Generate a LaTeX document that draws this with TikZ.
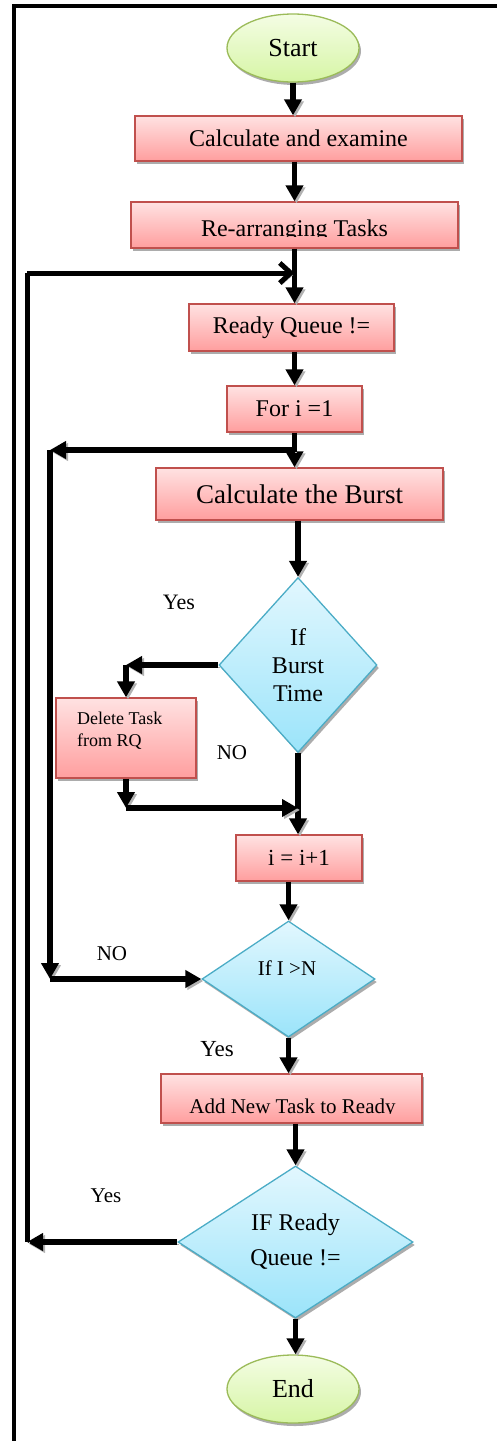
\documentclass[tikz,border=0pt]{standalone}
\usepackage{fontspec}
\setmainfont{Liberation Serif}
\usetikzlibrary{arrows.meta,shapes.geometric,shadows,calc}
\definecolor{boxborder}{RGB}{192,80,77}
\definecolor{boxtop}{RGB}{255,226,226}
\definecolor{boxbot}{RGB}{255,158,158}
\definecolor{ellborder}{RGB}{155,187,89}
\definecolor{elltop}{RGB}{244,253,228}
\definecolor{ellbot}{RGB}{214,245,165}
\definecolor{diaborder}{RGB}{75,172,198}
\definecolor{diatop}{RGB}{226,247,254}
\definecolor{diabot}{RGB}{155,228,250}
\begin{document}
\begin{tikzpicture}[x=1pt,y=-1pt,
  shd/.style={drop shadow={shadow xshift=2pt,shadow yshift=-3pt,fill=gray!65,opacity=1}},
  procbox/.style={rectangle, draw=boxborder, line width=1.3pt, top color=boxtop, bottom color=boxbot, shd, inner sep=0pt},
  term/.style={ellipse, draw=ellborder, line width=1.3pt, top color=elltop, bottom color=ellbot, shd, inner sep=0pt, minimum width=132pt, minimum height=68pt, font=\fontsize{26}{30}\selectfont},
  decide/.style={diamond, draw=diaborder, line width=1.3pt, top color=diatop, bottom color=diabot, shd, inner sep=0pt, align=center},
  lineshd/.style={preaction={draw=gray!60, transform canvas={shift={(2pt,-2pt)}}}},
  conn/.style={line width=5.5pt, -{Triangle[length=16pt,width=17pt]}, lineshd},
  plainln/.style={line width=5pt, lineshd},
  barb/.style={line width=5pt, -{Straight Barb[length=11pt,width=20pt]}, lineshd},
  lbl/.style={inner sep=0pt}
]
\useasboundingbox (0,0) rectangle (497,1441);
% frame
\coordinate (fBL) at (14,1441);
\coordinate (fTL) at (14,6);
\coordinate (fTR) at (497,6);
\draw[line width=4pt] (fBL) -- (fTL) -- (fTR);

% nodes
\node[term] (start) at (293,48) {Start};
\node[procbox, minimum width=327pt, minimum height=45pt, font=\fontsize{24}{28}\selectfont] (calc) at (298.5,138.5) {Calculate and examine};
\node[procbox, minimum width=327pt, minimum height=46pt] (rearr) at (294.5,225) {};
\begin{scope}
\clip (131,202) rectangle (458,236);
\node[lbl, anchor=base, font=\fontsize{24}{28}\selectfont] (trearr) at (294.5,236) {Re-arranging Tasks};
\end{scope}
\node[procbox, minimum width=205pt, minimum height=47pt, font=\fontsize{24}{28}\selectfont] (ready) at (291.5,327.5) {Ready Queue !=};
\node[procbox, minimum width=135pt, minimum height=46pt, font=\fontsize{24}{28}\selectfont] (fori) at (294.5,409) {For i =1};
\node[procbox, minimum width=287pt, minimum height=52pt, font=\fontsize{27}{31}\selectfont] (burstbox) at (299.5,494) {Calculate the Burst};
\node[decide, minimum width=158pt, minimum height=175pt, font=\fontsize{24}{28}\selectfont] (burst) at (298,665) {If\\Burst\\Time};
\node[procbox, minimum width=140pt, minimum height=80pt] (delete) at (126,738) {};
\node[lbl, anchor=west, align=left, font=\fontsize{18}{22}\selectfont] (tdelete) at (77,731) {Delete Task\\from RQ};
\node[procbox, minimum width=126pt, minimum height=46pt, font=\fontsize{23}{27}\selectfont] (inc) at (299,858) {i = i+1};
\node[decide, minimum width=173pt, minimum height=116pt] (ifn) at (288.5,979) {};
\node[lbl, font=\fontsize{21}{25}\selectfont] (tifn) at (287,968) {If I >N};
\node[procbox, minimum width=261pt, minimum height=49pt] (add) at (291.5,1098.5) {};
\begin{scope}
\clip (161,1074) rectangle (422,1113.5);
\node[lbl, anchor=base, font=\fontsize{21}{25}\selectfont] (tadd) at (292.5,1113.5) {Add New Task to Ready};
\end{scope}
\node[decide, minimum width=235pt, minimum height=152pt, font=\fontsize{24}{35}\selectfont] (ifr) at (295.5,1242) {IF Ready\\Queue !=};
\node[term] (end) at (293,1389) {End};

% labels
\node[lbl, font=\fontsize{22}{26}\selectfont] (yes1) at (179,602) {Yes};
\node[lbl, font=\fontsize{21}{25}\selectfont] (no1) at (232,753) {NO};
\node[lbl, font=\fontsize{21}{25}\selectfont] (no2) at (112,954) {NO};
\node[lbl, font=\fontsize{23}{27}\selectfont] (yes2) at (217,1049) {Yes};
\node[lbl, font=\fontsize{21}{25}\selectfont] (yes3) at (106,1196) {Yes};

% main column connectors
\draw[conn] (start.south) -- (start.south |- calc.north);
\draw[conn] (calc.south -| rearr) -- (rearr.north);
\draw[conn] (rearr.south) -- (rearr.south |- ready.north);
\draw[conn] (ready.south -| fori) -- (fori.north);
\draw[conn] (fori.south) -- (fori.south |- burstbox.north);
\draw[conn] (burstbox.south -| burst) -- (burst.north);
\draw[conn] (burst.south) -- (burst.south |- inc.north);
\draw[conn] (inc.south -| ifn) -- (ifn.north);
\draw[conn] (ifn.south) -- (ifn.south |- add.north);
\draw[conn] (add.south -| ifr) -- (ifr.north);
\draw[conn] (ifr.south) -- (ifr.south |- end.north);

% burst yes branch
\coordinate (bcorner) at (burst.west -| delete);
\draw[conn] (burst.west) -- (bcorner);
\draw[conn] (bcorner) -- (delete.north);
\coordinate (dcorner) at (126,808);
\coordinate (djoin) at (dcorner -| burst.south);
\draw[conn] (delete.south) -- (dcorner);
\draw[conn] (dcorner) -- (djoin);

% inner loop
\coordinate (jA) at (fori.south |- 0,450);
\coordinate (cA) at (50,450);
\coordinate (cB) at (cA |- ifn.west);
\draw[conn] (jA) -- (cA);
\draw[conn] (cA) -- (cB);
\draw[conn] (cB) -- (ifn.west);

% outer loop
\coordinate (oB) at (27,273);
\coordinate (oA) at (oB |- ifr.west);
\coordinate (oJ) at (rearr.south |- oB);
\draw[conn] (ifr.west) -- (oA);
\draw[plainln] (oA) -- (oB);
\draw[barb] (oB) -- (oJ);
\end{tikzpicture}
\end{document}
